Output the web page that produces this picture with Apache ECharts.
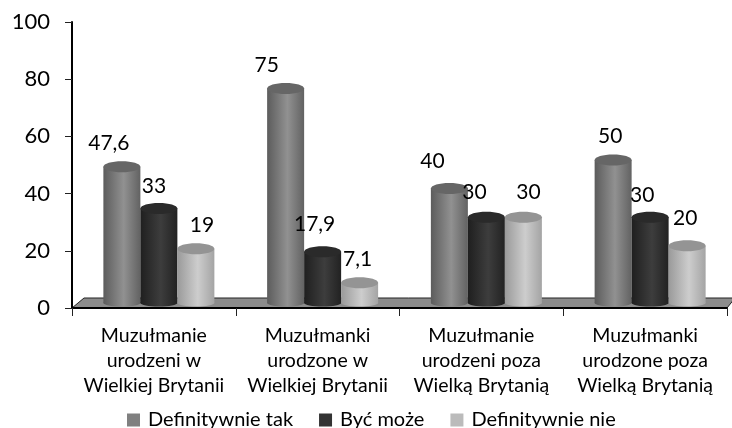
<!DOCTYPE html>
<html>
<head>
<meta charset="utf-8">
<style>
  html, body { margin: 0; padding: 0; background: #fff; }
  #chart { width: 732px; height: 428px; filter: blur(0.4px); }
</style>
<script src="https://cdn.jsdelivr.net/npm/echarts@6/dist/echarts.min.js"></script>
</head>
<body>
<div id="chart"></div>
<script>
var categories = [
  "Muzułmanie\nurodzeni w\nWielkiej Brytanii",
  "Muzułmanki\nurodzone w\nWielkiej Brytanii",
  "Muzułmanie\nurodzeni poza\nWielką Brytanią",
  "Muzułmanki\nurodzone poza\nWielką Brytanią",
];
var seriesNames = ["Definitywnie tak", "Być może", "Definitywnie nie"];
var takValues = [47.6, 75, 40, 50];
var mozeValues = [33, 17.9, 30, 30];
var nieValues = [19, 7.1, 30, 20];

var chart = echarts.init(document.getElementById("chart"));

var depth = 10; // floor depth of the fake 3d
var barWidth = 37;
var capRy = 5.5;
var textFont = 'Lato, sans-serif';

// colours of each cylinder: edge, middle, edge, top cap, legend
var palettes = [
  ["#5c5c5c", "#919191", "#626262", "#666666", "#808080"],
  ["#1f1f1f", "#3d3d3d", "#222222", "#2a2a2a", "#333333"],
  ["#9a9a9a", "#cdcdcd", "#a4a4a4", "#949494", "#bbbbbb"],
];

// hand placed labels in the original, offset from the bar top centre
var labelOffsets = [
  [[-13, -24], [-19, -23], [-17, -27], [-3, -24]],
  [[-5, -22], [-8, -28], [-12, -25], [-8, -22]],
  [[6, -23], [-2, -23], [5, -25], [-2, -28]],
];

function cylinder(seriesIndex) {
  var colors = palettes[seriesIndex];
  return function (params, api) {
    var idx = api.value(0);
    var top = api.coord([idx, api.value(1)]);
    var base = api.coord([idx, 0]);
    var cx = top[0] + depth / 2 + (seriesIndex - 1) * barWidth;
    var topY = top[1] - depth / 2;
    var baseY = base[1] - depth / 2;
    var fill = new echarts.graphic.LinearGradient(0, 0, 1, 0, [
      { offset: 0, color: colors[0] },
      { offset: 0.55, color: colors[1] },
      { offset: 1, color: colors[2] },
    ]);
    return {
      type: "group",
      children: [
        {
          type: "ellipse",
          shape: { cx: cx, cy: baseY, rx: barWidth / 2, ry: capRy - 2 },
          style: { fill: fill },
        },
        {
          type: "rect",
          shape: { x: cx - barWidth / 2, y: topY, width: barWidth, height: baseY - topY },
          style: { fill: fill },
        },
        {
          type: "ellipse",
          shape: { cx: cx, cy: topY, rx: barWidth / 2, ry: capRy },
          style: { fill: colors[3] },
        },
      ],
    };
  };
}

function valueLabel(seriesIndex) {
  return function (params, api) {
    var idx = api.value(0);
    var top = api.coord([idx, api.value(1)]);
    var off = labelOffsets[seriesIndex][idx];
    return {
      type: "text",
      x: top[0] + depth / 2 + (seriesIndex - 1) * barWidth + off[0],
      y: top[1] - depth / 2 + off[1],
      style: {
        text: String(api.value(1)).replace(".", ","),
        font: "21px " + textFont,
        fill: "#000",
        align: "center",
        verticalAlign: "middle",
      },
    };
  };
}

function toPairs(values) {
  return values.map(function (v, i) {
    return [i, v];
  });
}

var allValues = [takValues, mozeValues, nieValues];
var series = [];

// floor plate
series.push({
  type: "custom",
  silent: true,
  z: 1,
  clip: false,
  data: [[0, 0]],
  encode: { x: 0, y: 1 },
  renderItem: function (params, api) {
    var y0 = api.coord([0, 0])[1];
    var x0 = params.coordSys.x;
    var x1 = x0 + params.coordSys.width;
    return {
      type: "polygon",
      shape: {
        points: [
          [x0, y0],
          [x0 + depth + 2, y0 - depth],
          [x1 + depth - 2, y0 - depth],
          [x1, y0],
        ],
      },
      style: { fill: "#8c8c8c", stroke: "#222", lineWidth: 1 },
    };
  },
});

allValues.forEach(function (values, i) {
  series.push({
    name: seriesNames[i],
    type: "custom",
    z: 3 + i,
    clip: false,
    itemStyle: { color: palettes[i][4] },
    data: toPairs(values),
    encode: { x: 0, y: 1 },
    renderItem: cylinder(i),
  });
});

// labels sit on top, "17,9" and "30" run over the neighbouring bar
allValues.forEach(function (values, i) {
  series.push({
    type: "custom",
    silent: true,
    z: 8,
    clip: false,
    data: toPairs(values),
    encode: { x: 0, y: 1 },
    renderItem: valueLabel(i),
  });
});

chart.setOption({
  animation: false,
  backgroundColor: "#fff",
  grid: { left: 72, right: 5, top: 22, bottom: 120 },
  legend: {
    data: seriesNames,
    left: 122,
    top: 405,
    icon: "rect",
    itemWidth: 13,
    itemHeight: 13,
    itemGap: 26,
    textStyle: { fontFamily: textFont, fontSize: 20, color: "#000", padding: [0, 0, 0, 3] },
  },
  xAxis: {
    type: "category",
    data: categories,
    axisLine: { lineStyle: { color: "#000", width: 2 } },
    axisTick: { show: true, length: 8, lineStyle: { color: "#222", width: 1 } },
    axisLabel: {
      margin: 15,
      interval: 0,
      fontFamily: textFont,
      fontSize: 19.5,
      lineHeight: 25,
      color: "#000",
    },
    z: 10,
  },
  yAxis: {
    type: "value",
    min: 0,
    max: 100,
    interval: 20,
    splitLine: { show: false },
    axisLine: { show: true, lineStyle: { color: "#000", width: 2 } },
    axisTick: { show: true, length: 7, lineStyle: { color: "#222", width: 1 } },
    axisLabel: {
      margin: 22,
      padding: [3, 0, 0, 0],
      fontFamily: textFont,
      fontSize: 22,
      color: "#000",
    },
    z: 10,
  },
  series: series,
});
</script>
</body>
</html>
